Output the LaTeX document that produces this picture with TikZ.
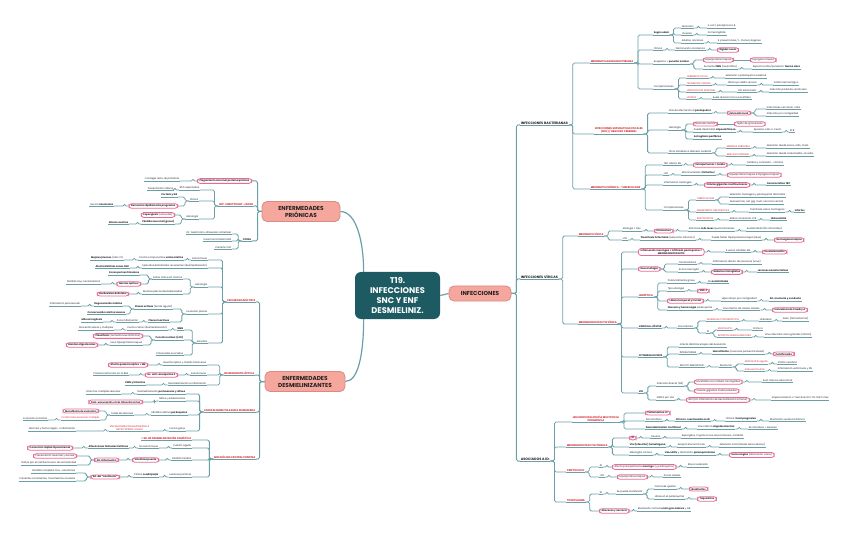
\documentclass[tikz,border=0pt]{standalone}
\usepackage{fontspec}
\setmainfont{Poppins}
\definecolor{lnc}{HTML}{6A9FA7}
\definecolor{pk}{HTML}{EA6A95}
\definecolor{rdc}{HTML}{D7262F}
\definecolor{txc}{HTML}{222222}
\definecolor{cen}{HTML}{1D5A62}
\definecolor{sal}{HTML}{F5A79D}
\definecolor{salb}{HTML}{D98A82}
\newcommand{\txs}{\fontsize{2.45}{2.9}\selectfont}
\newcommand{\txr}{\fontsize{2.6}{3.1}\selectfont}
\newcommand{\txl}{\fontsize{3.4}{4}\selectfont}
\tikzset{
  br/.style={draw=lnc,line width=.8bp,rounded corners=1.6bp},
  t/.style={font=\txs,text=txc,inner xsep=.6bp,inner ysep=.5bp,anchor=south west,
    append after command={(\tikzlastnode.south west) edge[br] (\tikzlastnode.south east)}},
  tl/.style={t,anchor=south east},
  b/.style={font=\txs\bfseries},
  r/.style={text=rdc},
  rb/.style={text=rdc,font=\txr\bfseries},
  l2/.style={t,font=\txl\bfseries},
  p/.style={font=\txs,text=txc,draw=pk,line width=.8bp,fill=white,rounded corners=2.6bp,
    inner xsep=2.2bp,inner ysep=1bp,anchor=west},
  pl/.style={p,anchor=east},
  cbox/.style={fill=cen,rounded corners=6bp,text=white,font=\fontsize{8.3}{10}\selectfont\bfseries,
    align=center,minimum width=85bp,minimum height=47bp},
  sbox/.style={fill=sal,draw=salb,line width=.8bp,rounded corners=5bp,text=txc,
    font=\fontsize{5.8}{7}\selectfont\bfseries,align=center}
}

\begin{document}
\begin{tikzpicture}[x=1bp,y=-1bp]
\useasboundingbox (0,0) rectangle (848,536);
% main topics
\node[cbox] (c) at (397.5,295.5) {T19.\\INFECCIONES\\SNC Y ENF\\DESMIELINIZ.};
\node[sbox,minimum width=62bp,minimum height=15bp] (inf) at (480,293.5) {INFECCIONES};
\node[sbox,minimum width=78bp,minimum height=20bp] (pri) at (301,211.5) {ENFERMEDADES\\PRIÓNICAS};
\node[sbox,minimum width=80bp,minimum height=20bp] (des) at (305,381.5) {ENFERMEDADES\\DESMIELINIZANTES};
\node[l2] (bac) at (520,125) {INFECCIONES BACTERIANAS};
\node[l2] (vir) at (520,279) {INFECCIONES VÍRICAS};
\node[l2] (aso) at (520,461) {ASOCIADOS A ID:};

% meningitis aguda bacteriana
\node[t,rb] (mab) at (590,63) {MENINGITIS AGUDA BACTERIANA};
\node[t,b] (edad) at (653,35) {Según edad};
\node[t] (neo) at (681,28) {Neonatos};
\node[t] (ecol) at (707,28) {E. coli / estreptococo B};
\node[t] (jov) at (681,35) {Jóvenes};
\node[t] (nme) at (707,35) {N. meningitidis};
\node[t] (adu) at (681,43) {Adultos, ancianos};
\node[t] (spn) at (717,43) {S. pneumoniae / L. monocytogenes};
\node[t] (cli) at (653,50) {Clínica};
\node[t] (dis) at (675,50) {Disminución conciencia};
\node[p] (rig) at (717,50) {\textbf{Rigidez nucal}};
\node[t] (sos) at (653,64) {Sospecha + \textbf{punción lumbar}};
\node[p] (hpr) at (703,60) {Hiperproteinorraquia};
\node[p] (hgl) at (750,60) {Hipoglucorraquia};
\node[t] (pmn) at (703,69) {Aumento \textbf{PMN} (neutrófilos)};
\node[t] (asp) at (752,69) {Aspecto turbio/purulento: \textbf{Nunca claro}};
\node[t] (com) at (653,89) {Complicaciones};
\node[t,r] (dfo) at (686,78) {CEREBRITIS FOCAL};
\node[t] (emb) at (725,78) {Extensión a parénquima cerebral};
\node[t,r] (hid) at (686,85) {TROMBOSIS VENOSA};
\node[t] (obs) at (727,85) {Obstruye salida venosa};
\node[t] (inh) at (773,85) {Infarto hemorrágico};
\node[t,r] (ven) at (686,92) {VENTRICULITIS REGIONAL};
\node[t] (lcr) at (737,92) {LCR estancado};
\node[t] (ipv) at (769,92) {Infección pared de ventrículos};
\node[t,r] (lis) at (686,99) {LISTERIA};
\node[t] (tro) at (712,99) {Suele afectar tronco encefálico};

% absceso cerebral
\node[t,rb,align=center] (sup) at (594,134) {INFECCIONES SUPURATIVAS FOCALES\\(SNC) / ABSCESO CEREBRAL};
\node[t] (vaf) at (668,113) {Vías de afectación al \textbf{parénquima}};
\node[p] (ext) at (727,113) {\textbf{Extensión local}};
\node[t] (ic1) at (766,109) {Infecciones cercanas: otitis};
\node[t] (ic2) at (766,116) {Infección por contigüidad};
\node[t] (his) at (668,130) {Histología};
\node[p] (nec) at (693,124) {Necrosis central};
\node[p] (tej) at (734,124) {Tejido de granulación};
\node[t] (cap) at (693,132) {Puede desarrollar \textbf{cápsula fibrosa}};
\node[t] (asn) at (753,132) {Aparece a las 2-3 sem};
\node[t] (tres) at (789,132) {ATB};
\node[t,b] (ast) at (693,139) {Astrogliosis periférica};
\node[t] (otr) at (668,153) {Otros similares a absceso cerebral};
\node[t,r] (emp) at (726,148) {EMPIEMA SUBDURAL};
\node[t] (ems) at (766,148) {Extensión desde senos, oído, mast.};
\node[t,r] (epi) at (726,156) {ABSCESO EPIDURAL};
\node[t] (eps) at (766,156) {Extensión desde osteomielitis, sinusitis};

% tuberculosis
\node[t,rb] (tbc) at (590,189) {MENINGITIS CRÓNICA - TUBERCULOSIS};
\node[t] (tsn) at (663,165) {TBC afecta SN};
\node[p] (tpi) at (693,165) {\textbf{Extrapulmonar + tardía}};
\node[t] (cef) at (746,165) {Cefalea y confusión... vómitos};
\node[t] (tlc) at (663,175) {LCR};
\node[t] (mon) at (681,175) {Mononucleares (\textbf{linfocitos})};
\node[p] (thp) at (727,175) {Hiperproteinorraquia e hipoglucorraquia};
\node[t] (tin) at (663,185) {Inflamación meníngea};
\node[p] (cgm) at (704,185) {\textbf{Células gigantes multinucleares}};
\node[t,b] (ctb) at (766,185) {Característica TBC};
\node[t] (tco) at (663,210) {Complicaciones};
\node[t,r] (tub) at (696,200) {TUBERCULOMA};
\node[t] (tu1) at (729,197) {Extensión meníngea y parénquima afectados};
\node[t] (tu2) at (729,204) {Granulomas, cél. gig. mult., necrosis central};
\node[t,r] (eno) at (696,212) {ENDARTERITIS OBLITERATIVA};
\node[t] (tvm) at (749,212) {Trombosis vasos meníngeos};
\node[t,b] (ift) at (794,212) {Infartos};
\node[t,r] (ara) at (696,220) {ARACNOIDITIS};
\node[t] (alc) at (729,220) {Altera circulación LCR};
\node[t,b] (hdc) at (770,220) {Hidrocefalia};

% meningitis virica
\node[t,rb] (mvi) at (578,236) {MENINGITIS VÍRICA};
\node[t] (etf) at (622,231) {Etiología + frec.};
\node[p] (ent) at (654,231) {\textbf{Enterovirus}};
\node[t] (sml) at (688,231) {Síntomas \textbf{más leves} que bacterianas};
\node[t] (aut) at (746,231) {Autolimitada (No antivirales)};
\node[t] (vlc) at (622,240) {LCR};
\node[t] (ple) at (640,240) {\textbf{Pleocitosis linfocitaria} (elevación linfocitos)};
\node[t] (phh) at (711,240) {Puede haber hiperproteinorraquia (leve)};
\node[p] (nor) at (774,240) {\textbf{Normoglucorraquia}};

% meningoencefalitis virica
\node[t,rb] (mev) at (578,324) {MENINGOENCEFALITIS VÍRICA};
\node[p,align=center] (men) at (638,252) {\textbf{Inflamación meníngea + infiltrado parénquima =}\\\textbf{MENINGOENCEFALITIS}};
\node[t] (avc) at (725,252) {A veces también ME};
\node[p] (enm) at (762,252) {\textbf{Encefalomielitis}};
\node[p] (neu) at (638,269) {\textbf{Neuronofagia}};
\node[t] (car) at (678,264) {Característica};
\node[t] (inn) at (712,264) {Inflamación dentro de neuronas (virus)};
\node[t] (amg) at (678,272) {Activa microglía};
\node[p] (nod) at (711,272) {\textbf{Nódulos microgliales}};
\node[t,b] (lch) at (757,272) {Lesiones características};
\node[t,rb] (her) at (638,297) {HERPÉTICA};
\node[t] (pgr) at (667,283) {Potencialmente grave};
\node[t] (nal) at (707,283) {No \textbf{autolimitada}};
\node[t] (tet) at (667,291) {Tipo etiología};
\node[p] (vhs) at (697,291) {\textbf{VHS-1}};
\node[p] (lob) at (667,301) {\textbf{Lóbulo temporal y frontal}};
\node[t] (hip) at (721,301) {Hipocampo por contigüidad};
\node[t,b] (alt) at (769,301) {Alt. memoria y conducta};
\node[t] (nhe) at (667,310) {\textbf{Necrosis y hemorragia} parénquima};
\node[t] (vdc) at (722,310) {Virus dentro de núcleo células};
\node[p] (cow) at (772,310) {\textbf{Inclusiones de Cowdry A}};
\node[t,b] (vzo) at (638,328) {VARICELA-ZÓSTER};
\node[t] (vla) at (677,328) {Virus latente};
\node[t,r] (npo) at (706,321) {NEURALGIA POSTHERPÉTICA};
\node[t] (uni) at (759,321) {Unilateral};
\node[t] (dol) at (782,321) {Dolor (dermatomas)};
\node[t] (si) at (706,333) {ID};
\node[t,r] (enc) at (717,330) {ENCEFALITIS};
\node[t] (cro) at (752,330) {Crónica};
\node[t,r] (agr) at (717,337) {ARTERITIS GRANULOMATOSA};
\node[t] (vav) at (764,337) {Virus afectará vasos grandes (infarto)};
\node[t,b] (cmv) at (638,357) {CITOMEGALOVIRUS};
\node[t] (ide) at (679,347) {Infecta distintas etapas del desarrollo};
\node[t] (itu) at (679,354) {INTRAUTERINA};
\node[t] (nnp) at (712,354) {\textbf{Necrotizante} (neuronas periventriculares)};
\node[p] (cal) at (773,354) {\textbf{Calcificación}};
\node[t] (adi) at (679,367) {ADULTO INMUNOSUP.};
\node[t] (asn2) at (719,367) {Afecta SN};
\node[t,r] (eag) at (744,364) {ENCEFALITIS aguda};
\node[t] (icr) at (777,364) {Infarto cerebral};
\node[t,r] (env) at (744,371) {Endoventriculitis};
\node[t] (ivs) at (777,371) {Inflamación ventrículos y SN};
\node[t,b] (vih) at (638,393) {VIH};
\node[t] (idi) at (656,386) {Infección directa (SN)};
\node[p] (ecn) at (694,382) {Encefalitis con nódulos microgliales};
\node[t] (sbs) at (762,382) {Sust. blanca subcortical};
\node[p] (cgi) at (694,391) {Células gigantes multinucleadas};
\node[t] (dvi) at (656,400) {Déficit por VIH};
\node[p] (iri) at (686,400) {IRIS (Sd. Inflamatorio de Reconstitución Inmune)};
\node[t] (emr) at (771,400) {Empeoramiento o ``reactivación'' tto TAR 3 mes};

% asociados a ID
\node[t,rb,align=center] (lmp) at (572,422) {LEUCOENCEFALOPATÍA MULTIFOCAL\\PROGRESIVA};
\node[p] (pjc) at (645,413) {\textbf{Poliomavirus JC}};
\node[t] (asi) at (645,421) {Asintomático};
\node[t,b] (crid) at (675,421) {Clínica + reactivación en ID};
\node[t] (cfp) at (725,421) {Clínica: \textbf{focal progresiva}};
\node[t] (asb) at (769,421) {Afectación sustancia blanca};
\node[t,b] (dmf) at (645,429) {Desmielinización multifocal};
\node[t] (vao) at (697,429) {Virus afecta \textbf{oligodendrocitos}};
\node[t] (sil) at (748,429) {Se introduce + lesiones};
\node[t,rb] (mfu) at (566,447) {MENINGOENCEFALITIS FÚNGICA};
\node[p] (fid) at (629,438) {\textbf{ID}};
\node[t] (cau) at (650,438) {Causas};
\node[t] (asg) at (681,438) {Aspergillus, Cryptococcus, Mucormicosis, Candida};
\node[t,b] (vhe) at (629,447) {Vía (infección) hematógena};
\node[t] (exm) at (677,447) {Excepto Mucormicosis};
\node[t] (elo) at (719,447) {Extensión local (desde senos aéreos)};
\node[t] (mcr) at (629,455) {Meningitis crónica};
\node[t] (vap) at (664,455) {\textbf{Vasculitis} y afectación \textbf{parenquimatosa}};
\node[p] (hem) at (729,455) {\textbf{Hemorragias} (afectación vasos)};
\node[t,rb] (cri) at (566,472) {CRIPTOCOCO};
\node[t] (cid) at (599,467) {ID};
\node[p] (apm) at (612,467) {Afecta principalmente \textbf{meninge} (y parénquima)};
\node[t] (sne) at (687,467) {SN por extensión};
\node[t] (clc) at (599,477) {LCR};
\node[p] (chp) at (617,477) {Hiperproteinorraquia};
\node[t] (pcl) at (663,477) {Pocas células};
\node[t,rb] (tox) at (566,502) {TOXOPLASMA};
\node[t] (tid) at (599,494) {ID};
\node[t] (smf) at (616,494) {Se puede manifestar};
\node[t] (fqu) at (654,489) {Forma de quistes};
\node[p] (bra) at (689,489) {\textbf{Bradizoítos}};
\node[t] (lpa) at (654,499) {Libres en el parénquima};
\node[p] (taq) at (697,499) {\textbf{Taquizoítos}};
\node[p] (abn) at (599,511) {\textbf{Abscesos y necrosis}};
\node[t] (acg) at (637,511) {Afectación cortical \textbf{unión gris-blanca} y GB};

% priones
\node[pl] (pla) at (252,181) {\textbf{Plegamiento anormal proteína priónica}};
\node[tl] (cre) at (180,181) {Contagia resto de proteínas};
\node[tl,rb] (cjd) at (254,206) {ENF. CREUTZFELDT-JAKOB};
\node[tl] (nsp) at (200,190) {95\% esporádica};
\node[tl] (pcs) at (174,190) {Presentación clásica};
\node[tl] (cln) at (199,201) {Clínica};
\node[tl,b] (cyg) at (178,197) {Corteza y GB};
\node[pl] (drp) at (178,206) {\textbf{Demencia rápidamente progresiva}};
\node[tl] (amc) at (114,206) {Asocia \textbf{mioclonías}};
\node[tl] (hst) at (199,219) {Histología};
\node[pl] (esp) at (175,215) {\textbf{Espongiosis} (vacuolas)};
\node[tl,b] (pne) at (175,224) {Pérdida neuronal (grave)};
\node[tl,b] (gre) at (129,224) {Gliosis reactiva};
\node[tl,b] (otras) at (252,241) {OTRAS};
\node[tl] (gss) at (232,234) {Inf. Gerstmann-Sträussler-Scheinker};
\node[tl] (iff) at (232,241) {Insomnio familiar fatal};
\node[tl] (vcj) at (232,249) {Variante CJD};

% esclerosis multiple
\node[tl,rb] (em) at (256,302) {ESCLEROSIS MÚLTIPLE};
\node[tl] (ain) at (208,260) {Autoinmune};
\node[tl] (ccm) at (184,260) {Contra componentes \textbf{vaina mielina}};
\node[tl] (mjo) at (124,260) {\textbf{Mujeres jóvenes} (ratio 2:1)};
\node[tl] (edr) at (208,268) {Episodios delimitados recurrentes (desmielinización)};
\node[tl,b] (adz) at (130,268) {Afecta distintas zonas SNC};
\node[tl] (his2) at (208,287) {Histología};
\node[tl] (stb) at (183,279) {Sobre todo sust. blanca};
\node[tl,b] (zpv) at (140,275) {Zonas periventriculares};
\node[pl] (nop) at (141,284) {\textbf{Nervios ópticos}};
\node[tl] (pmc) at (101,284) {Pérdida muy característica};
\node[tl] (mpd) at (183,294) {Muchas placas desmielinizadas};
\node[pl] (bbd) at (129,294) {\textbf{Bordes bien definidos}};
\node[tl] (evp) at (208,314) {Evolución placas};
\node[tl] (pac) at (173,309) {\textbf{Placas activas} (borde agudo)};
\node[tl,b] (dgm) at (123,306) {Degeneración mielina};
\node[tl] (ipv2) at (81,306) {Inflamación perivascular};
\node[tl,b] (cra) at (126,314) {Conservación relativa axones};
\node[tl,b] (pin) at (170,322) {Placas inactivas};
\node[tl] (pif) at (139,322) {Poca inflamación};
\node[tl,b] (mas) at (103,322) {Más astrogliosis};
\node[tl] (est) at (208,343) {Estudios};
\node[tl,b] (rmn) at (184,330) {RMN};
\node[tl] (pcd) at (168,330) {Puntos claros (desmielinización)};
\node[tl] (pym) at (114,330) {Periventriculares y múltiples};
\node[tl,b] (plu) at (184,340) {Punción lumbar (LCR)};
\node[pl] (pal) at (143,336) {\textbf{Pleocitosis} (aumento leve linfocitos)};
\node[tl] (lhp) at (143,345) {Leve hiperproteinorraquia};
\node[pl] (bol) at (98,345) {\textbf{Bandas oligoclonales}};
\node[tl] (pev) at (184,355) {Potenciales evocados};

% neuromielitis optica
\node[tl,rb] (nmo) at (255,375) {NEUROMIELITIS ÓPTICA};
\node[tl] (nom) at (207,365) {Neuritis óptica y mielitis transversa};
\node[pl] (aqm) at (148,365) {\textbf{Afecta quiasma óptico + ME}};
\node[tl] (ai2) at (207,375) {Autoinmune};
\node[pl] (aaq) at (178,375) {\textbf{Ac. anti-acuaporina 4}};
\node[tl] (pab) at (129,375) {Proteína astrocitos en la BHE};
\node[tl] (dei) at (207,385) {Desmielinización e inflamación};
\node[tl,b] (pmn2) at (146,385) {PMN y linfocitos};

% EMAD
\node[tl,rb] (adem) at (256,412) {ENCEFALOMIELITIS AGUDA DISEMINADA};
\node[tl] (dml) at (186,394) {Desmielinización \textbf{perivascular y difusa}};
\node[tl] (dtm) at (121,394) {Días tras, múltiples lesiones};
\node[tl] (nya) at (186,401) {Niños y adolescentes};
\node[pl] (pvi) at (143,402) {\textbf{Post-vacunación o tras infección vírica}};
\node[tl] (prp) at (188,415) {Pérdida relativa \textbf{parénquima}};
\node[tl] (tdl) at (134,415) {Todas las lesiones};
\node[pl] (mfe) at (99,411) {\textbf{Monofásica de evolución}};
\node[tl,r] (cem) at (100,420) {Confirmaría esclerosis múltiple};
\node[tl] (ebr) at (48,420) {Evolución en brotes};
\node[tl] (fgr) at (186,431) {Forma grave};
\node[tl,r,align=center] (ehn) at (150,431) {ENCEFALOMIELITIS HEMORRÁGICA\\NECROTIZANTE AGUDA};
\node[tl] (nyh) at (76,431) {Necrosis y hemorragias + inflamación};

% mielinolisis
\node[tl,rb] (mcp) at (256,459) {MIELINÓLISIS CENTRAL PONTINA};
\node[tl,rb] (sdo) at (192,440) {+ SD. DE DESMIELINIZACIÓN OSMÓTICA};
\node[tl] (cag) at (192,448) {Cuadro agudo};
\node[tl] (nau) at (159,448) {No autoinmune};
\node[tl,b] (ahe) at (129,448) {Alteraciones hidroelectrolíticas};
\node[pl] (crh) at (73,448) {\textbf{Corrección rápida hiponatremia}};
\node[tl] (pmi) at (192,460) {Pérdida mielina};
\node[pl] (sip) at (159,460) {\textbf{Simétrica puente}};
\node[pl] (sin) at (119,460) {\textbf{Sin inflamación}};
\node[pl] (pna) at (77,456) {Preservación neuronal y axones};
\node[tl] (dcb) at (77,465) {Daños por el cambio brusco de osmolaridad};
\node[tl] (lpu) at (192,477) {Lesiones pontinas};
\node[tl] (ccu) at (159,477) {Clínica \textbf{cuadriplejía}};
\node[pl] (sca) at (120,477) {\textbf{Sd. del ``cautiverio''}};
\node[tl] (pcv) at (76,473) {Pérdida completa mov. voluntarios};
\node[tl] (pcn) at (76,481) {Pacientes conscientes, movimientos oculares};

% connectors
\draw[br,line width=1.2bp] (c.east) -- (inf.west);
\draw[br,line width=1.2bp] (pri.east) .. controls +(16,0) and +(0,-30) .. (c.145);
\draw[br,line width=1.2bp] (des.east) .. controls +(14,0) and +(0,30) .. (c.215);
\foreach \ch in {bac,vir,aso} \draw[br,line width=1bp] (inf.east) -- ++(5,0) |- (\ch.south west);
\draw[br,line width=1bp] (pri.west) -- ++(-4,0) |- (pla.east);
\foreach \ch in {cjd,otras} \draw[br,line width=1bp] (pri.west) -- ++(-4,0) |- (\ch.south east);
\foreach \ch in {em,nmo,adem,mcp} \draw[br,line width=1bp] (des.west) -- ++(-5,0) |- (\ch.south east);
\foreach \pa/\ch in {bac/mab,bac/sup,bac/tbc,mab/edad,mab/cli,mab/sos,mab/com,edad/neo,edad/jov,edad/adu,
  neo/ecol,jov/nme,adu/spn,cli/dis,sos/pmn,pmn/asp,com/dfo,com/hid,com/ven,com/lis,dfo/emb,hid/obs,obs/inh,
  ven/lcr,lcr/ipv,lis/tro,sup/vaf,sup/his,sup/otr,his/cap,his/ast,cap/asn,asn/tres,otr/emp,otr/epi,emp/ems,
  epi/eps,tbc/tsn,tbc/tlc,tbc/tin,tbc/tco,tlc/mon,tco/tub,tco/eno,tco/ara,tub/tu1,tub/tu2,eno/tvm,tvm/ift,
  ara/alc,alc/hdc,vir/mvi,vir/mev,mvi/etf,mvi/vlc,vlc/ple,ple/phh,sml/aut,car/inn,mev/her,mev/vzo,mev/cmv,
  mev/vih,her/pgr,her/tet,her/nhe,pgr/nal,nhe/vdc,hip/alt,vzo/vla,vla/npo,vla/si,npo/uni,uni/dol,si/enc,
  si/agr,enc/cro,agr/vav,cmv/ide,cmv/itu,cmv/adi,itu/nnp,adi/asn2,asn2/eag,asn2/env,eag/icr,env/ivs,
  vih/idi,vih/dvi,aso/lmp,aso/mfu,aso/cri,aso/tox,lmp/asi,lmp/dmf,asi/crid,crid/cfp,cfp/asb,dmf/vao,
  vao/sil,mfu/vhe,mfu/mcr,vhe/exm,exm/elo,mcr/vap,cau/asg,cri/cid,cri/clc,tox/tid,tid/smf,smf/fqu,smf/lpa}
  \draw[br] (\pa.south east) -- ++(4,0) |- (\ch.south west);
\foreach \pa/\ch in {dis/rig,sos/hpr,vaf/ext,his/nec,tsn/tpi,mon/thp,tin/cgm,etf/ent,phh/nor,mev/men,
  mev/neu,amg/nod,tet/vhs,her/lob,vdc/cow,nnp/cal,idi/ecn,idi/cgi,dvi/iri,lmp/pjc,mfu/fid,vap/hem,
  cid/apm,clc/chp,fqu/bra,lpa/taq,tox/abn,avc/enm}
  \draw[br] (\pa.south east) -- ++(4,0) |- (\ch.west);
\foreach \pa/\ch in {ext/ic1,ext/ic2,tpi/cef,cgm/ctb,ent/sml,men/avc,neu/car,neu/amg,nod/lch,lob/hip,
  ecn/sbs,iri/emr,fid/cau,apm/sne,chp/pcl,abn/acg}
  \draw[br] (\pa.east) -- ++(4,0) |- (\ch.south west);
\foreach \pa/\ch in {hpr/hgl,nec/tej}
  \draw[br] (\pa.east) -- (\ch.west);
\foreach \pa/\ch in {cjd/nsp,nsp/pcs,cjd/cln,cjd/hst,cln/cyg,hst/pne,pne/gre,otras/gss,otras/iff,otras/vcj,
  em/ain,em/edr,em/his2,em/evp,em/est,ain/ccm,ccm/mjo,edr/adz,his2/stb,his2/mpd,stb/zpv,evp/pac,evp/pin,
  pac/dgm,pac/cra,dgm/ipv2,pin/pif,pif/mas,est/rmn,est/plu,est/pev,rmn/pcd,pcd/pym,plu/lhp,nmo/nom,
  nmo/ai2,nmo/dei,dei/pmn2,adem/dml,adem/nya,adem/prp,adem/fgr,dml/dtm,prp/tdl,tdl/cem,cem/ebr,fgr/ehn,
  ehn/nyh,mcp/sdo,mcp/cag,mcp/pmi,mcp/lpu,cag/nau,nau/ahe,lpu/ccu}
  \draw[br] (\pa.south west) -- ++(-4,0) |- (\ch.south east);
\foreach \pa/\ch in {cln/drp,hst/esp,stb/nop,mpd/bbd,plu/pal,lhp/bol,nom/aqm,ai2/aaq,nya/pvi,tdl/mfe,
  ahe/crh,pmi/sip,ccu/sca}
  \draw[br] (\pa.south west) -- ++(-4,0) |- (\ch.east);
\foreach \pa/\ch in {pla/cre,drp/amc,nop/pmc,aaq/pab,sin/dcb,sca/pcv,sca/pcn}
  \draw[br] (\pa.west) -- ++(-4,0) |- (\ch.south east);
\foreach \pa/\ch in {sip/sin,sin/pna}
  \draw[br] (\pa.west) -- ++(-4,0) |- (\ch.east);
\end{tikzpicture}
\end{document}
